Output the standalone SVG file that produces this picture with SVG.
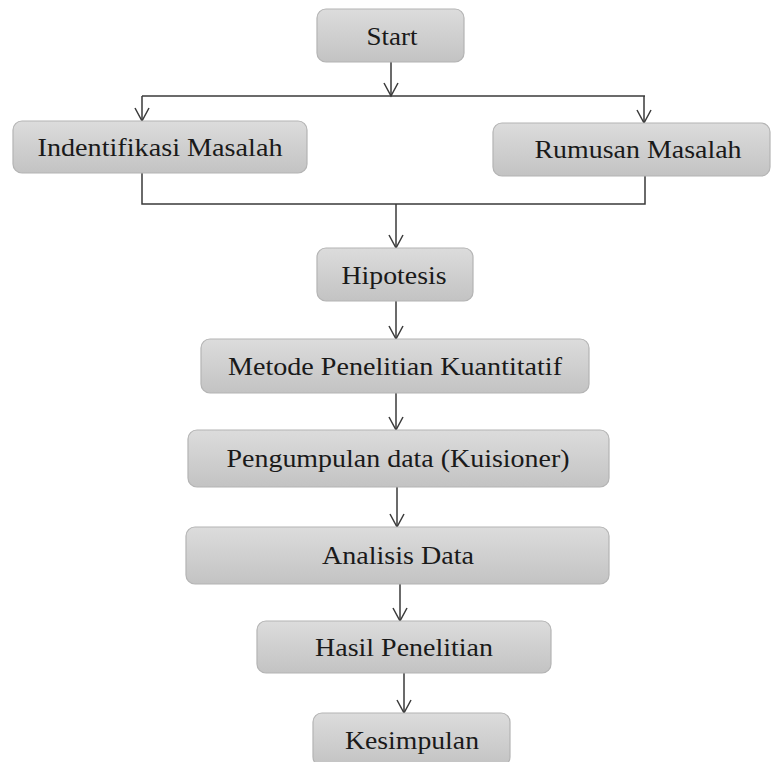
<svg xmlns="http://www.w3.org/2000/svg" width="772" height="762" viewBox="0 0 772 762">
<defs>
<linearGradient id="g" x1="0" y1="0" x2="0" y2="1">
<stop offset="0" stop-color="#dcdcdc"/>
<stop offset="1" stop-color="#c3c3c3"/>
</linearGradient>
<marker id="ah" markerWidth="16" markerHeight="16" viewBox="0 0 16 16" refX="14" refY="8" orient="auto" markerUnits="userSpaceOnUse">
<path d="M1,1 L14,8 L1,15" fill="none" stroke="#3a3a3a" stroke-width="1.5"/>
</marker>
<style>
.box{fill:url(#g);stroke:#b4b4b4;stroke-width:1.2}
.t{font-family:"Liberation Serif","Times New Roman",serif;font-size:26px;fill:#1a1a1a;text-anchor:middle}
.c{fill:none;stroke:#3a3a3a;stroke-width:1.5}
.a{marker-end:url(#ah)}
</style>
</defs>
<rect width="772" height="762" fill="#ffffff"/>
<g id="connectors">
<path class="c a" d="M391,62 V96"/>
<path class="c" d="M142,96 H645"/>
<path class="c a" d="M142,96 V121"/>
<path class="c a" d="M644,96 V123"/>
<path class="c" d="M142,173 V204 H645 V175"/>
<path class="c a" d="M396,204 V248"/>
<path class="c a" d="M396,301 V339"/>
<path class="c a" d="M396,393 V430"/>
<path class="c a" d="M397,487 V527"/>
<path class="c a" d="M400,584 V621"/>
<path class="c a" d="M404,673 V713"/>
</g>
<g id="start"><rect class="box" x="317" y="9" width="147" height="53" rx="9"/><text class="t" x="392" y="45" textLength="51" lengthAdjust="spacingAndGlyphs">Start</text></g>
<g id="identifikasi"><rect class="box" x="13" y="121" width="294" height="52" rx="9"/><text class="t" x="160" y="156" textLength="245" lengthAdjust="spacingAndGlyphs">Indentifikasi Masalah</text></g>
<g id="rumusan"><rect class="box" x="493" y="123" width="277" height="53" rx="9"/><text class="t" x="638" y="158" textLength="207" lengthAdjust="spacingAndGlyphs">Rumusan Masalah</text></g>
<g id="hipotesis"><rect class="box" x="317" y="248" width="156" height="53" rx="9"/><text class="t" x="394" y="284" textLength="105" lengthAdjust="spacingAndGlyphs">Hipotesis</text></g>
<g id="metode"><rect class="box" x="201" y="339" width="388" height="54" rx="9"/><text class="t" x="395" y="375" textLength="334" lengthAdjust="spacingAndGlyphs">Metode Penelitian Kuantitatif</text></g>
<g id="pengumpulan"><rect class="box" x="188" y="430" width="421" height="57" rx="9"/><text class="t" x="398" y="467" textLength="343" lengthAdjust="spacingAndGlyphs">Pengumpulan data (Kuisioner)</text></g>
<g id="analisis"><rect class="box" x="186" y="527" width="423" height="57" rx="9"/><text class="t" x="398" y="564" textLength="152" lengthAdjust="spacingAndGlyphs">Analisis Data</text></g>
<g id="hasil"><rect class="box" x="257" y="621" width="294" height="52" rx="9"/><text class="t" x="404" y="656" textLength="178" lengthAdjust="spacingAndGlyphs">Hasil Penelitian</text></g>
<g id="kesimpulan"><rect class="box" x="313" y="713" width="197" height="53" rx="9"/><text class="t" x="412" y="749" textLength="134" lengthAdjust="spacingAndGlyphs">Kesimpulan</text></g>
</svg>
